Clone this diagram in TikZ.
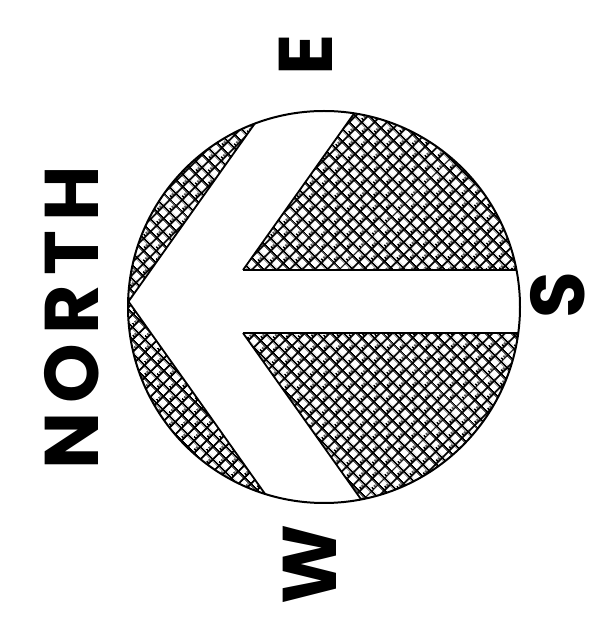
\documentclass[tikz,border=0pt]{standalone}
\usepackage{fontspec}
\newfontfamily\markerfont{Poppins}
\usetikzlibrary{patterns.meta}
\definecolor{pen}{RGB}{0,0,0}

\tikzdeclarepattern{
  name=brickhatch,
  type=uncolored,
  bounding box={(0pt,0pt) and (18pt,18pt)},
  tile size={(18pt,18pt)},
  tile transformation={rotate=45},
  code={
    \draw[line width=1.9pt] (-0.5pt,4.5pt) -- (18.5pt,4.5pt) (-0.5pt,13.5pt) -- (18.5pt,13.5pt);
    \draw[line width=1.9pt] (4.5pt,-0.5pt) -- (4.5pt,18.5pt) (13.5pt,-0.5pt) -- (13.5pt,18.5pt);
    \draw[line width=1.5pt] (7.6pt,4.5pt) -- (7.6pt,7.6pt) (16.6pt,13.5pt) -- (16.6pt,16.6pt)
      (1.4pt,13.5pt) -- (1.4pt,16.6pt) (10.4pt,4.5pt) -- (10.4pt,7.6pt);
  }
}

\begin{document}
\begin{tikzpicture}[
  x=1pt, y=1pt,
  rimline/.style={draw=pen, line width=2pt},
  cutline/.style={draw=pen, line width=1.8pt},
  hatch/.style={pattern=brickhatch, pattern color=pen},
  letter/.style={font=\markerfont\bfseries\fontsize{76}{76}\selectfont, text=pen,
                 rotate=90, inner sep=3pt}]

  \useasboundingbox (0,0) rectangle (601,624);
  \coordinate (ctr) at (324,317);
  \coordinate (tip) at (128.5,322.5);
  \coordinate (nup) at (243,354);
  \coordinate (ndn) at (243,291);

  % hatched face, arrow left white
  \begin{scope}
    \clip (ctr) circle (196);
    \fill[hatch] (tip) -- ++(220,310) -- (100,632) -- (100,322.5) -- cycle;
    \fill[hatch] (tip) -- ++(220,-310) -- (100,12.5) -- (100,322.5) -- cycle;
    \fill[hatch] (nup) -- ++(220,310) -- (600,664) -- (600,354) -- cycle;
    \fill[hatch] (ndn) -- ++(220,-310) -- (600,-19) -- (600,291) -- cycle;
    \draw[cutline] (tip) -- ++(220,310) (tip) -- ++(220,-310);
    \draw[cutline] (nup) -- ++(220,310) (nup) -- (600,354);
    \draw[cutline] (ndn) -- ++(220,-310) (ndn) -- (600,291);
  \end{scope}
  \draw[rimline] (ctr) circle (196);

  \node[letter] (north) at (72,306) {\addfontfeature{LetterSpace=12}NORTH};
  \node[letter] (east) at (306,569) {E};
  \node[letter] (south) at (558,329) {S};
  \node[letter] (west) at (310,59) {W};
\end{tikzpicture}
\end{document}
